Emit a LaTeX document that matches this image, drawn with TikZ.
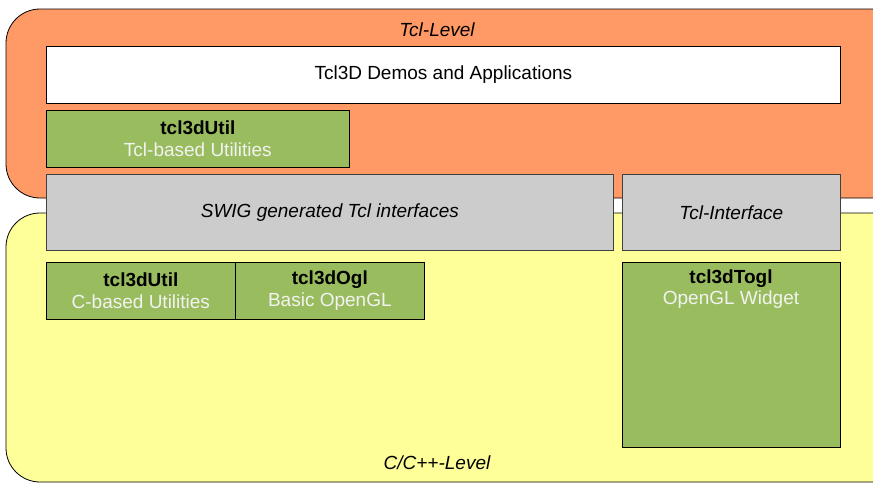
\documentclass[tikz,border=0pt]{standalone}
\usepackage{fontspec}
\setmainfont{Liberation Sans}
\definecolor{tclorange}{HTML}{FF9966}
\definecolor{cyellow}{HTML}{FFFF99}
\definecolor{modgreen}{HTML}{99BD5E}
\definecolor{ifgray}{HTML}{CCCCCC}
\definecolor{subwhite}{HTML}{F2F2F2}
\newcommand{\dfont}{\fontsize{19}{22}\selectfont}
\tikzset{
  level/.style={draw=black, line width=0.8pt, rounded corners=34pt},
  box/.style={draw=black, line width=0.7pt, rectangle, inner sep=0pt, anchor=north west},
  modbox/.style={box, fill=modgreen, align=center, font=\dfont},
  ifbox/.style={box, fill=ifgray, draw=black!75, font=\dfont\itshape},
  lvltext/.style={font=\dfont\itshape},
  sub/.style={text=subwhite, font=\dfont},
  ttl/.style={font=\dfont\bfseries}
}
\begin{document}
\begin{tikzpicture}[x=1pt,y=-1pt]
\useasboundingbox (0,0) rectangle (873,483);
\clip (0,0) rectangle (873,483);
% levels
\draw[level, fill=tclorange] (6,9) rectangle (905,198);
\draw[level, fill=cyellow] (6,213) rectangle (905,482);
\node[lvltext] (tcllevel) at (437,30) {Tcl-Level};
\node[lvltext] (clevel) at (437,463) {C/C++-Level};
% Tcl level boxes
\node[box, fill=white, minimum width=794pt, minimum height=57pt, font=\dfont] (demos) at (46,46) {Tcl3D Demos and Applications};
\node[modbox, minimum width=303pt, minimum height=57pt] (tclutil) at (46,110)
  {\textbf{tcl3dUtil}\\{\color{subwhite}Tcl-based Utilities}};
% interfaces
\node[ifbox, minimum width=567pt, minimum height=76pt] (swig) at (46,174) {SWIG generated Tcl interfaces};
\node[ifbox, minimum width=218pt, minimum height=76pt] (tclif) at (622,174) {Tcl-Interface};
% C level boxes
\node[modbox, minimum width=189pt, minimum height=57pt] (cutil) at (46,262)
  {\textbf{tcl3dUtil}\\{\color{subwhite}C-based Utilities}};
\node[modbox, minimum width=189pt, minimum height=57pt] (ogl) at (235,262)
  {\textbf{tcl3dOgl}\\{\color{subwhite}Basic OpenGL}};
\node[modbox, minimum width=218pt, minimum height=185pt] (togl) at (622,262) {};
\node[ttl] (togltitle) at (731,279) {tcl3dTogl};
\node[sub] (toglsub) at (731,300) {OpenGL Widget};
\end{tikzpicture}
\end{document}
